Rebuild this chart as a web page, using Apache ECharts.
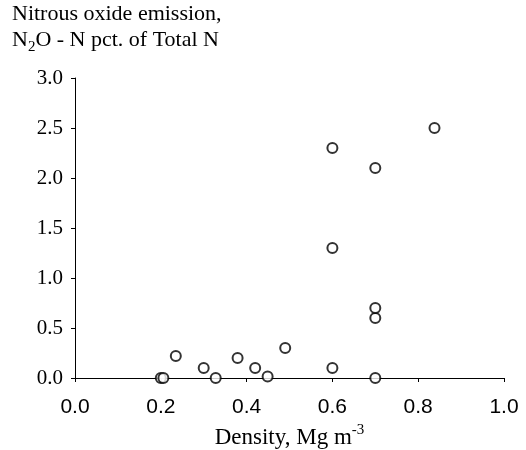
<!DOCTYPE html>
<html>
<head>
<meta charset="utf-8">
<script src="https://cdn.jsdelivr.net/npm/echarts@6/dist/echarts.min.js"></script>
<style>
  html, body { margin: 0; padding: 0; background: #fff; }
  #chart { width: 526px; height: 450px; }
</style>
</head>
<body>
<div id="chart"></div>
<script>
// Soil density vs. N2O-N emission as a share of total N
const density = [0.20, 0.206, 0.235, 0.30, 0.328, 0.379, 0.42, 0.449, 0.49, 0.60, 0.60, 0.60, 0.70, 0.70, 0.70, 0.70, 0.838];
const emission = [0.0, 0.0, 0.22, 0.10, 0.0, 0.20, 0.10, 0.014, 0.30, 0.10, 1.30, 2.30, 0.0, 0.60, 0.70, 2.10, 2.50];
const xTicks = ['0.0', '0.2', '0.4', '0.6', '0.8', '1.0'];
const yTicks = ['0.0', '0.5', '1.0', '1.5', '2.0', '2.5', '3.0'];

const points = density.map((d, i) => [d, emission[i]]);
const serif = '"Liberation Serif", "Times New Roman", serif';
const sans = '"Liberation Sans", Arial, sans-serif';

const chart = echarts.init(document.getElementById('chart'), null, { renderer: 'canvas' });
chart.setOption({
  animation: false,
  backgroundColor: '#fff',
  title: {
    left: 12,
    top: 1,
    padding: 0,
    text: 'Nitrous oxide emission,\n{n|N}{sub|2}{n|O - N pct. of Total N}',
    textStyle: {
      fontFamily: serif,
      fontSize: 22,
      fontWeight: 'normal',
      color: '#000',
      lineHeight: 26,
      rich: {
        n: { fontFamily: serif, fontSize: 22, color: '#000', lineHeight: 26 },
        sub: { fontFamily: serif, fontSize: 15, color: '#000', padding: [8, 0, -7, 0] }
      }
    }
  },
  grid: { left: 75, right: 22, top: 78, bottom: 72, containLabel: false, outerBoundsMode: 'none' },
  xAxis: {
    type: 'value',
    min: 0, max: 1, interval: 0.2,
    name: '{n|Density, Mg m}{sup|-3}',
    nameLocation: 'middle',
    nameGap: 45,
    nameTextStyle: {
      fontFamily: serif, fontSize: 23, color: '#000',
      rich: {
        n: { fontFamily: serif, fontSize: 23, color: '#000' },
        sup: { fontFamily: serif, fontSize: 15, color: '#000', padding: [-8, 0, 8, 0] }
      }
    },
    axisLine: { lineStyle: { color: '#000', width: 1 } },
    axisTick: { show: true, inside: false, length: 4, lineStyle: { color: '#000' } },
    axisLabel: {
      fontFamily: sans, fontSize: 21, color: '#000', margin: 19,
      formatter: (v) => xTicks[Math.round(v / 0.2)]
    },
    splitLine: { show: false }
  },
  yAxis: {
    type: 'value',
    min: 0, max: 3, interval: 0.5,
    axisLine: { show: true, lineStyle: { color: '#000', width: 1 } },
    axisTick: { show: true, inside: false, length: 4, lineStyle: { color: '#000' } },
    axisLabel: {
      fontFamily: serif, fontSize: 21, color: '#000', margin: 12,
      formatter: (v) => yTicks[Math.round(v / 0.5)]
    },
    splitLine: { show: false }
  },
  series: [{
    type: 'scatter',
    data: points,
    symbol: 'circle',
    symbolSize: 10,
    itemStyle: { color: '#fff', borderColor: '#000', borderWidth: 2 },
    emphasis: { disabled: true }
  }]
});
</script>
</body>
</html>
